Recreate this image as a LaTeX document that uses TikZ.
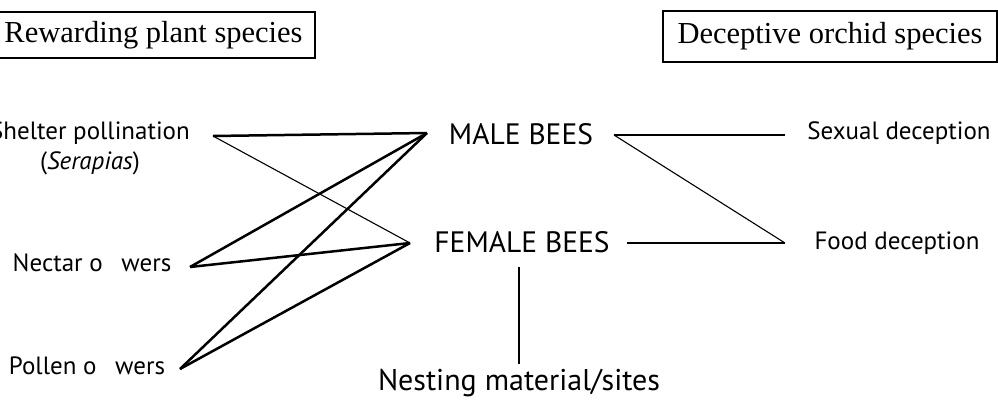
\documentclass[tikz,border=0pt]{standalone}
\usepackage{fontspec}
\setmainfont{Liberation Serif}
\setsansfont{PT Sans}
\usetikzlibrary{positioning}

\begin{document}
\begin{tikzpicture}[x=1pt, y=-1pt,
    groupbox/.style={draw, line width=1.4pt, inner sep=0pt, font=\fontsize{30.5}{33}\selectfont},
    sidelabel/.style={font=\sffamily\fontsize{25}{30}\selectfont, align=center},
    beelabel/.style={font=\sffamily\fontsize{29.5}{32}\selectfont},
    strong/.style={line width=2.5pt},
    weak/.style={line width=1.1pt}]
    \useasboundingbox (0,0) rectangle (998,402);
    % category boxes
    \node[groupbox, minimum width=323pt, minimum height=46pt] (reward) at (153.5,35) {Rewarding plant species};
    \node[groupbox, minimum width=334pt, minimum height=51pt] (decept) at (830,36.5) {Deceptive orchid species};
    % plant side
    \node[sidelabel] (shelter) at (90,148) {Shelter pollination\\(\textit{Serapias})};
    \node[sidelabel] (nectar) at (92,263) {Nectar o\hspace{0.75em}wers};
    \node[sidelabel] (pollen) at (87,366) {Pollen o\hspace{0.75em}wers};
    % bees
    \node[beelabel] (male) at (521,134) {MALE BEES};
    \node[beelabel] (female) at (522,242) {FEMALE BEES};
    \node[beelabel, font=\sffamily\fontsize{30}{32}\selectfont] (nesting) at (519,383) {Nesting material/sites};
    % orchid side
    \node[sidelabel] (sexual) at (899,133) {Sexual deception};
    \node[sidelabel] (food) at (897,243) {Food deception};
    % line ends
    \coordinate (shelterR) at (213,136);
    \coordinate (nectarR) at (190,267);
    \coordinate (pollenR) at (180,369);
    \coordinate (maleL) at (427,133);
    \coordinate (maleR) at (614,135);
    \coordinate (femaleL) at (410,243);
    \coordinate (femaleR) at (627,243);
    \coordinate (sexualL) at (785,135);
    \coordinate (foodL) at (785,243);
    \coordinate (nestT) at (519,267);
    \coordinate (nestB) at (519,364);
    \draw[strong] (shelterR) -- (maleL);
    \draw[weak] (shelterR) -- (femaleL);
    \draw[strong] (nectarR) -- (maleL);
    \draw[strong] (nectarR) -- (femaleL);
    \draw[strong] (pollenR) -- (maleL);
    \draw[strong] (pollenR) -- (femaleL);
    \draw[strong] (maleR) -- (sexualL);
    \draw[weak] (maleR) -- (foodL);
    \draw[strong] (femaleR) -- (foodL);
    \draw[strong] (nestT) -- (nestB);
  \end{tikzpicture}
\end{document}
